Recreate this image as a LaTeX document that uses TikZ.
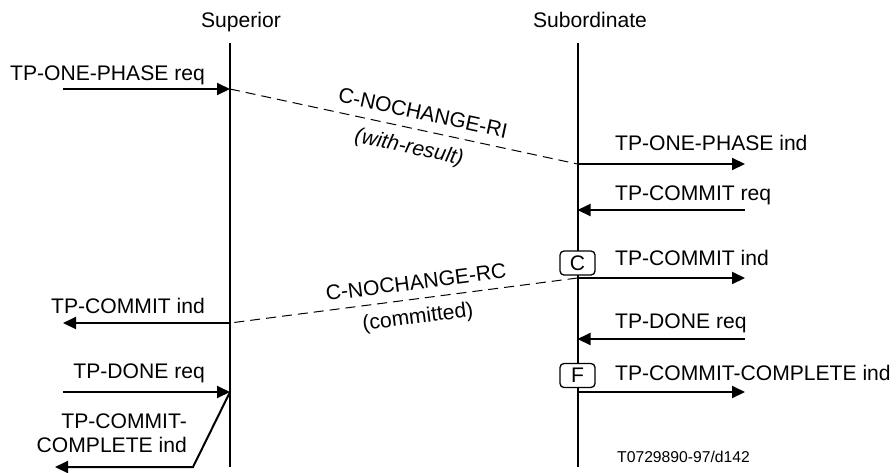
\documentclass[tikz,border=0pt]{standalone}
\usepackage{fontspec}
\setmainfont{Liberation Sans}
\usetikzlibrary{arrows.meta}
\tikzset{
  lbl/.style={inner sep=0pt, font=\fontsize{21.1}{25}\selectfont},
  small/.style={inner sep=0pt, font=\fontsize{15.7}{19}\selectfont},
  life/.style={line width=2pt},
  msg/.style={line width=2pt, -{Triangle[length=13pt,width=12pt]}},
  pdu/.style={line width=1pt, dash pattern=on 10pt off 6pt},
  statebox/.style={draw, fill=white, line width=1.3pt, rounded corners=4pt, minimum width=35pt, minimum height=24pt, inner sep=0pt, font=\fontsize{21.1}{25}\selectfont}
}
\begin{document}
\begin{tikzpicture}[x=1pt,y=-1pt]
\useasboundingbox (0,0) rectangle (896,472);
% lifelines
\coordinate (supT) at (230,43);
\coordinate (supB) at (230,467);
\coordinate (subT) at (577.5,43);
\coordinate (subB) at (577.5,467);
\draw[life] (supT) -- (supB);
\draw[life] (subT) -- (subB);
\node[lbl, anchor=base] (supL) at (241,27) {Superior};
\node[lbl, anchor=base] (subL) at (590,27) {Subordinate};

% points on lifelines
\coordinate (s1) at (230,89);
\coordinate (d1) at (577.5,164);
\coordinate (d2) at (577.5,210);
\coordinate (d3) at (577.5,278);
\coordinate (s3) at (230,323);
\coordinate (d4) at (577.5,339);
\coordinate (s5) at (230,392);
\coordinate (d5) at (577.5,392);

% free ends
\coordinate (e1) at (63,89);
\coordinate (r1) at (745,164);
\coordinate (r2) at (745,210);
\coordinate (r3) at (745,278);
\coordinate (e3) at (63,323);
\coordinate (r4) at (745,339);
\coordinate (r5) at (745,392);
\coordinate (e5) at (63,392);
\coordinate (k6) at (193,467);
\coordinate (e6) at (55,467);

% primitives
\draw[msg] (e1) -- (s1);
\node[lbl, anchor=base east] (t1) at (205,80) {TP-ONE-PHASE req};
\draw[msg] (d1) -- (r1);
\node[lbl, anchor=base west] (t2) at (615,150) {TP-ONE-PHASE ind};
\draw[msg] (r2) -- (d2);
\node[lbl, anchor=base west] (t3) at (615,200) {TP-COMMIT req};
\draw[msg] (d3) -- (r3);
\node[lbl, anchor=base west] (t4) at (615,265) {TP-COMMIT ind};
\draw[msg] (s3) -- (e3);
\node[lbl, anchor=base east] (t5) at (205,313) {TP-COMMIT ind};
\draw[msg] (r4) -- (d4);
\node[lbl, anchor=base west] (t6) at (615,328) {TP-DONE req};
\draw[msg] (d5) -- (r5);
\node[lbl, anchor=base west] (t7) at (615,380) {TP-COMMIT-COMPLETE ind};
\draw[msg] (e5) -- (s5);
\node[lbl, anchor=base east] (t8) at (205,378) {TP-DONE req};
\draw[msg] (s5) -- (k6) -- (e6);
\node[lbl, anchor=base east] (t9a) at (187,428) {TP-COMMIT-};
\node[lbl, anchor=base east] (t9b) at (187,452) {COMPLETE ind};

% state boxes
\node[statebox] (boxC) at (577.5,263) {C};
\node[statebox] (boxF) at (577.5,375.5) {F};

% PDUs
\draw[pdu] (s1) -- (d1);
\node[lbl, rotate=-12.2] (p1) at (423,113) {C-NOCHANGE-RI};
\node[lbl, rotate=-12.2] (p1b) at (409,148) {\itshape (with-result)};
\draw[pdu] (d3) -- (s3);
\node[lbl, rotate=7.4] (p2) at (416,282) {C-NOCHANGE-RC};
\node[lbl, rotate=7.4] (p2b) at (418,318) {(committed)};

% footer
\node[small, anchor=base west] (foot) at (617,462) {T0729890-97/d142};
\end{tikzpicture}
\end{document}
